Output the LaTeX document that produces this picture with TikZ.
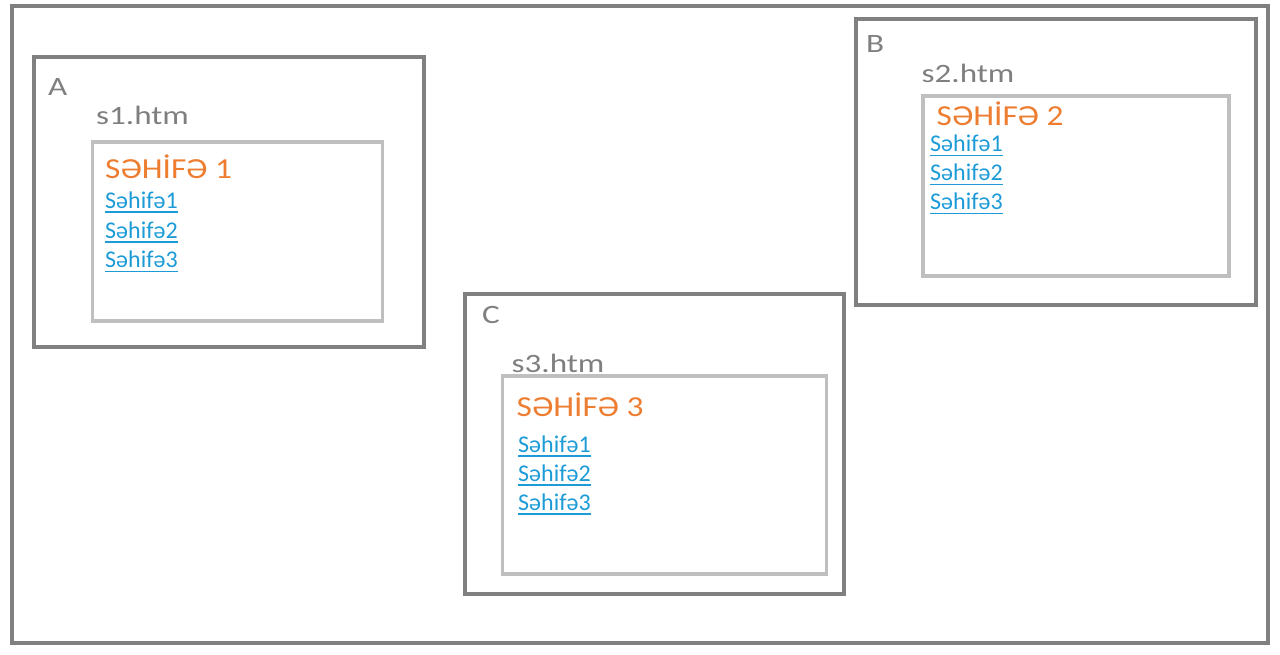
\documentclass[tikz,border=0pt]{standalone}
\usepackage{fontspec}
\setmainfont{Carlito}
\newfontfamily\lblfont[FakeStretch=1.25]{Carlito}
\newfontfamily\headfont[FakeStretch=1.15]{Carlito}
\definecolor{framegray}{HTML}{808080}
\definecolor{innergray}{HTML}{BFBFBF}
\definecolor{textgray}{HTML}{7F7F7F}
\definecolor{headorange}{HTML}{ED7D31}
\definecolor{linkblue}{RGB}{28,155,215}
\tikzset{
  frame/.style={draw=framegray, line width=4pt, inner sep=0pt, outer sep=0pt},
  pagebox/.style={draw=innergray, line width=3.8pt, inner sep=0pt, outer sep=0pt},
  lbl/.style={anchor=base west, inner sep=0pt, text=textgray, font=\lblfont\fontsize{26.5}{30}\selectfont},
  head/.style={anchor=base west, inner sep=0pt, text=headorange, font=\headfont\fontsize{29}{33}\selectfont},
  lnk/.style={anchor=base west, inner sep=0pt, text=linkblue, font=\fontsize{24}{28}\selectfont},
  uline/.style={draw=linkblue, line width=1.6pt}
}
\begin{document}
\begin{tikzpicture}[x=1pt,y=-1pt]
\useasboundingbox (0,0) rectangle (1280,654);
% outer frame
\node[frame, minimum width=1256pt, minimum height=636.5pt] (outer) at (640,324.6) {};
% box A
\node[frame, minimum width=390pt, minimum height=290pt] (boxA) at (229,202) {};
\node[pagebox, minimum width=290pt, minimum height=179pt] (innerA) at (237.5,231.5) {};
% box B
\node[frame, minimum width=400pt, minimum height=286pt] (boxB) at (1056,162) {};
\node[pagebox, minimum width=306.5pt, minimum height=180pt] (innerB) at (1076,186) {};
% box C
\node[frame, minimum width=379pt, minimum height=300pt] (boxC) at (654.5,444) {};
\node[pagebox, minimum width=324pt, minimum height=198pt] (innerC) at (664.5,475) {};

% labels A
\node[lbl] (labA) at (48,95) {A};
\node[lbl] (fileA) at (96,124.3) {s1.htm};
\node[head] (headA) at (105,178) {SƏHİFƏ 1};
\node[lnk] (a1) at (105,208.3) {Səhifə1};
\node[lnk] (a2) at (105,238) {Səhifə2};
\node[lnk] (a3) at (105,267.5) {Səhifə3};
% labels B
\node[lbl] (labB) at (866,52) {B};
\node[lbl] (fileB) at (921.5,82) {s2.htm};
\node[head] (headB) at (936.5,125) {SƏHİFƏ 2};
\node[lnk] (b1) at (930,151.7) {Səhifə1};
\node[lnk] (b2) at (930,180.7) {Səhifə2};
\node[lnk] (b3) at (930,209.5) {Səhifə3};
% labels C
\node[lbl] (labC) at (482,323) {C};
\node[lbl] (fileC) at (511.5,372) {s3.htm};
\node[head] (headC) at (516.5,416) {SƏHİFƏ 3};
\node[lnk] (c1) at (518,452) {Səhifə1};
\node[lnk] (c2) at (518,481) {Səhifə2};
\node[lnk] (c3) at (518,510) {Səhifə3};

% underlines
\foreach \n in {a1,a2,a3,b1,b2,b3,c1,c2,c3}{
  \draw[uline] ([yshift=-3.8pt]\n.base west) -- ([yshift=-3.8pt]\n.base east);
}
\end{tikzpicture}
\end{document}
